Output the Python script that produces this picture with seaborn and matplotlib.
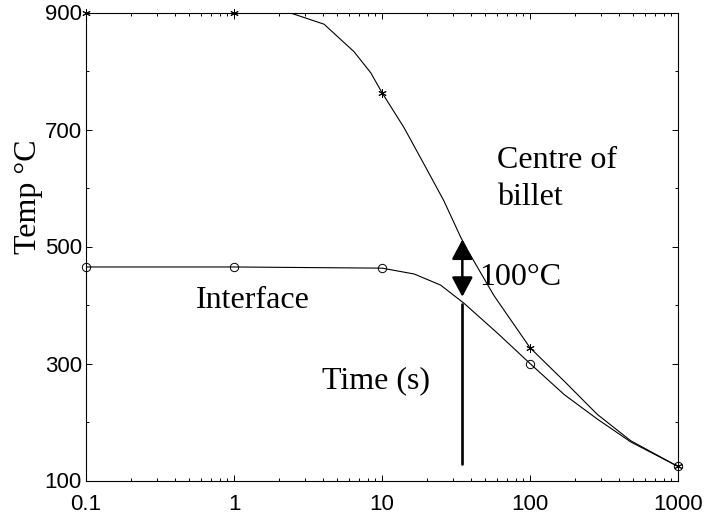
import numpy as np
import pandas as pd
import matplotlib
matplotlib.use("Agg")
import matplotlib.pyplot as plt
from matplotlib.ticker import FixedLocator, LogLocator, NullFormatter, MultipleLocator
import seaborn as sns

# ------------------------------------------------------------
# values
# ------------------------------------------------------------
centre_time = [0.1, 1, 2.42, 4.06, 6.47, 8.39, 10, 14.1, 19.2, 26.2, 34, 37.8,
               57.1, 100, 170, 285, 479, 1000]
centre_temp = [900, 900, 899, 880, 833, 797, 763, 703, 641, 578, 516, 494,
               416, 327, 270, 213, 168, 124]

interface_time = [0.1, 1, 10, 16.5, 24.9, 35.8, 60.2, 100, 170, 285, 479, 1000]
interface_temp = [465, 465, 463, 453, 434, 403, 352, 300, 247, 205, 166, 124]

marker_time = [0.1, 1, 10, 100, 1000]
centre_marker_temp = [900, 900, 763, 327, 124]
interface_marker_temp = [465, 465, 463, 300, 124]

# the 100 degC gap marked at t ~ 35 s
gap_time = 34.9
gap_low, gap_high = 414, 512
drop_line = (128, 401)

x_ticks = [0.1, 1, 10, 100, 1000]
x_ticklabels = ["0.1", "1", "10", "100", "1000"]
y_ticks = [100, 300, 500, 700, 900]

SERIF = ["Liberation Serif", "DejaVu Serif"]

# ------------------------------------------------------------
# plot
# ------------------------------------------------------------
sns.set_style("ticks")
plt.rcParams["font.family"] = ["Liberation Sans", "DejaVu Sans"]

centre_df = pd.DataFrame({"time": centre_time, "temp": centre_temp})
interface_df = pd.DataFrame({"time": interface_time, "temp": interface_temp})

fig = plt.figure(figsize=(7.17, 5.19), dpi=100)
ax = fig.add_axes([86 / 717, 1 - 480.5 / 519, 592 / 717, 468 / 519])

sns.lineplot(data=centre_df, x="time", y="temp", ax=ax, color="k",
             lw=0.8, estimator=None, sort=False)
sns.lineplot(data=interface_df, x="time", y="temp", ax=ax, color="k",
             lw=0.8, estimator=None, sort=False)

# markers only at the decades
sns.lineplot(x=marker_time, y=centre_marker_temp, ax=ax, color="k",
             linestyle="none", marker=(6, 2, 0), ms=6, mec="k", mew=0.7,
             estimator=None, clip_on=False)
sns.lineplot(x=marker_time, y=interface_marker_temp, ax=ax, color="k",
             linestyle="none", marker="o", ms=6, mfc="none", mec="k", mew=0.7,
             estimator=None, clip_on=False)

# double arrow + vertical line
ax.annotate("", xy=(gap_time, gap_high), xytext=(gap_time, gap_low),
            arrowprops=dict(arrowstyle="<|-|>,head_length=0.6,head_width=0.32",
                            mutation_scale=20, color="k", lw=1.8,
                            shrinkA=0, shrinkB=0))
ax.plot([gap_time, gap_time], drop_line, color="k", lw=1.9)

ax.set_xscale("log")
ax.set_xlim(0.1, 1000)
ax.set_ylim(100, 900)

ax.xaxis.set_major_locator(FixedLocator(x_ticks))
ax.set_xticklabels(x_ticklabels)
ax.xaxis.set_minor_locator(LogLocator(base=10, subs=np.arange(2, 10)))
ax.xaxis.set_minor_formatter(NullFormatter())
ax.yaxis.set_major_locator(FixedLocator(y_ticks))
ax.yaxis.set_minor_locator(MultipleLocator(100))

ax.tick_params(which="both", direction="in", top=True, right=True,
               width=0.7, color="k", labelsize=16, labelcolor="k")
ax.tick_params(which="major", length=4)
ax.tick_params(which="minor", length=2.2)
ax.tick_params(axis="x", pad=9.5)
ax.tick_params(axis="y", pad=3)

for sp in ax.spines.values():
    sp.set_linewidth(0.8)
    sp.set_color("k")

ax.set_xlabel("")
ax.set_ylabel("Temp °C", family=SERIF, fontsize=23, color="k")
ax.yaxis.set_label_coords(-0.072, 0.606)

# labels inside the axes
txt = dict(transform=ax.transAxes, family=SERIF, fontsize=23,
           color="k", ha="left", va="baseline")
ax.text(0.694, 0.668, "Centre of", **txt)
ax.text(0.694, 0.589, "billet", **txt)
ax.text(0.664, 0.418, "100°C", **txt)
ax.text(0.186, 0.368, "Interface", **txt)
ax.text(0.398, 0.197, "Time (s)", **txt)

fig.savefig("out.png", dpi=100)
